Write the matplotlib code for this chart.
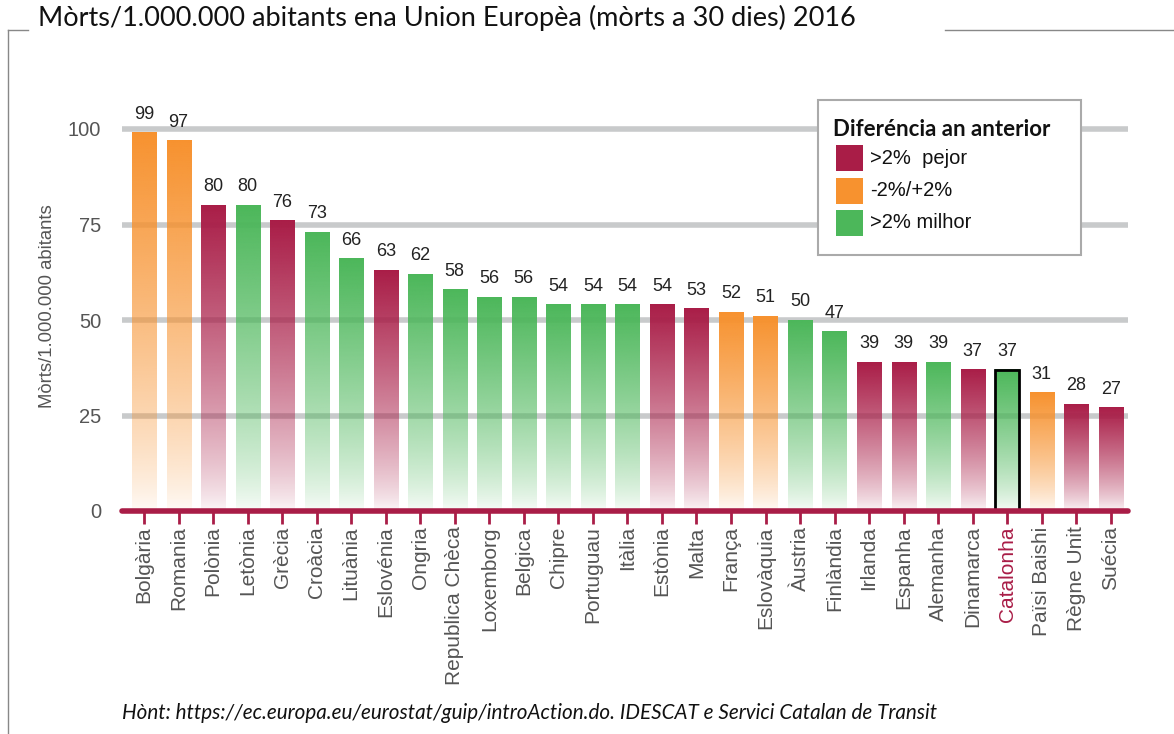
import numpy as np
import matplotlib.pyplot as plt
from matplotlib.patches import Rectangle
from matplotlib.colors import to_rgb
from matplotlib.lines import Line2D

# data
countries = ["Bolgària", "Romania", "Polònia", "Letònia", "Grècia", "Croàcia",
             "Lituània", "Eslovénia", "Ongria", "Republica Chèca", "Loxemborg",
             "Belgica", "Chipre", "Portuguau", "Itàlia", "Estònia", "Malta",
             "França", "Eslovàquia", "Àustria", "Finlàndia", "Irlanda", "Espanha",
             "Alemanha", "Dinamarca", "Catalonha", "Païsi Baishi", "Règne Unit", "Suécia"]
deaths = [99, 97, 80, 80, 76, 73, 66, 63, 62, 58, 56, 56, 54, 54, 54, 54, 53,
          52, 51, 50, 47, 39, 39, 39, 37, 37, 31, 28, 27]
# trend vs previous year: w = worse, s = stable, b = better
trend = ["s", "s", "w", "b", "w", "b", "b", "w", "b", "b", "b", "b", "b", "b",
         "b", "w", "w", "s", "s", "b", "b", "w", "w", "b", "w", "b", "s", "w", "w"]
highlight = "Catalonha"
legend_title = "Diferéncia an anterior"
legend_labels = [">2%  pejor", "-2%/+2%", ">2% milhor"]

RED = "#A91D47"
ORANGE = "#F7922F"
GREEN = "#4CB75A"
colors = {"w": RED, "s": ORANGE, "b": GREEN}

W, H = 1174, 734
fig = plt.figure(figsize=(W / 100, H / 100), dpi=100)


def fx(px):
    return px / W


def fy(py):
    return 1 - py / H


# axes placed in pixel terms
ax_l, ax_r, ax_b, ax_t = 122, 1128, 511, 101
ax = fig.add_axes([fx(ax_l), fy(ax_b), (ax_r - ax_l) / W, (ax_b - ax_t) / H])
n = len(countries)
x = np.arange(n)
xmin, xmax = -0.64, n - 1 + 0.5
ymax = (ax_b - ax_t) / 3.82

bw = 0.7
grad = np.linspace(1, 0, 200).reshape(-1, 1)
for i, (v, t) in enumerate(zip(deaths, trend)):
    img = np.zeros((200, 1, 4))
    img[..., :3] = to_rgb(colors[t])
    img[..., 3] = 0.03 + 0.97 * grad ** 0.75
    ax.imshow(img, extent=[i - bw / 2, i + bw / 2, 0, v], aspect="auto",
              interpolation="bilinear", zorder=3)
    ax.text(i, v + 2.6, str(v), ha="center", va="bottom", fontsize=13,
            color="#222222", family="Liberation Sans", zorder=5)
    if countries[i] == highlight:
        ax.add_patch(Rectangle((i - bw / 2, 0), bw, v, fill=False,
                               edgecolor="black", lw=2, zorder=4))

for g in [25, 50, 75, 100]:
    ax.plot([xmin, xmax], [g, g], color="#C8CACB", lw=4, zorder=1,
            solid_capstyle="butt")
ax.plot([xmin, xmax], [0, 0], color=RED, lw=4, solid_capstyle="round",
        zorder=6, clip_on=False)

ax.set_xlim(xmin, xmax)
ax.set_ylim(0, ymax)
for s in ax.spines.values():
    s.set_visible(False)

ax.set_yticks([0, 25, 50, 75, 100])
ax.tick_params(axis="y", length=0, pad=15, labelsize=14.5, labelcolor="#555555")
ax.set_xticks(x)
ax.set_xticklabels(countries, rotation=90, fontsize=15, color="#555555",
                   family="Liberation Sans")
ax.tick_params(axis="x", length=9, width=2, color=RED, pad=2)
for lab in ax.get_xticklabels():
    if lab.get_text() == highlight:
        lab.set_color(RED)
for lab in ax.get_yticklabels():
    lab.set_family("Liberation Sans")
ax.set_ylabel("Mòrts/1.000.000 abitants", fontsize=13.3, color="#555555",
              family="Liberation Sans")
ax.yaxis.set_label_coords(-0.066, 0.5)

# legend drawn by hand
fig.add_artist(Rectangle((fx(818), fy(255)), (1081 - 818) / W, (255 - 100) / H,
                         facecolor="white", edgecolor="#AAAAAA", lw=1.5,
                         zorder=10))
fig.text(fx(833), fy(129), legend_title, fontsize=16, family="Lato",
         weight="bold", va="center", ha="left", color="#111111", zorder=11)
for k, (lab, c) in enumerate(zip(legend_labels, [RED, ORANGE, GREEN])):
    yc = 158 + 32.5 * k
    fig.add_artist(Rectangle((fx(836), fy(yc + 13)), 27 / W, 26 / H,
                             facecolor=c, edgecolor="none", zorder=11))
    fig.text(fx(870), fy(yc), lab, fontsize=14.5, family="Liberation Sans",
             va="center", ha="left", color="#111111", zorder=11)

# frame lines and title
fig.add_artist(Line2D([fx(8), fx(8)], [0, fy(30)], color="#888888", lw=1))
fig.add_artist(Line2D([fx(8), fx(28)], [fy(30), fy(30)], color="#888888", lw=1))
fig.add_artist(Line2D([fx(945), 1], [fy(30), fy(30)], color="#888888", lw=1))
fig.text(fx(38), fy(18), "Mòrts/1.000.000 abitants ena Union Europèa (mòrts a 30 dies) 2016",
         fontsize=19.5, family="Lato", va="center", ha="left", color="#111111")
fig.text(fx(122), fy(713),
         "Hònt: https://ec.europa.eu/eurostat/guip/introAction.do. IDESCAT e Servici Catalan de Transit",
         fontsize=14.9, family="Lato", style="italic", va="center", ha="left",
         color="#111111")

fig.savefig("out.png", dpi=100)
